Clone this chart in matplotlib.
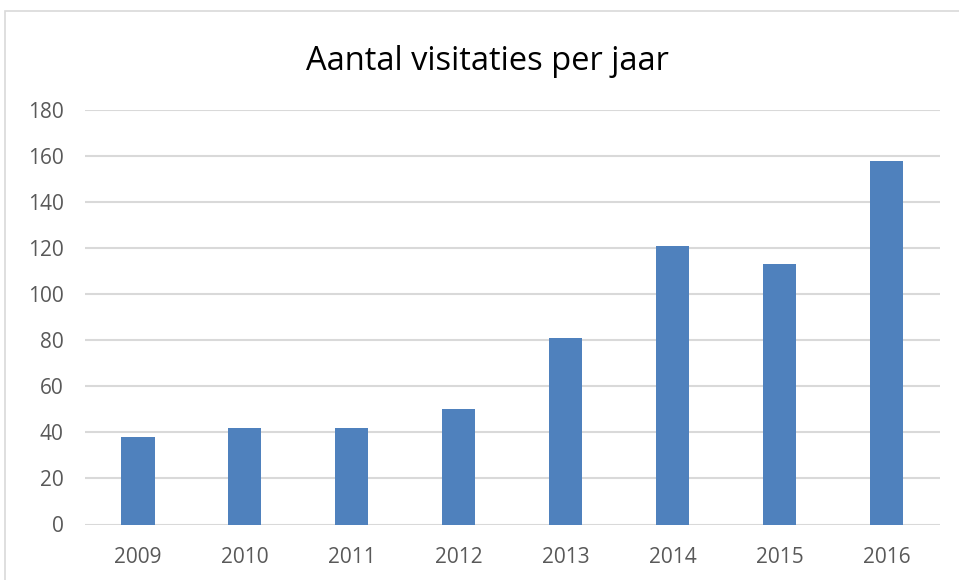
import matplotlib.pyplot as plt
import matplotlib.patches as patches
import numpy as np

years = ["2009", "2010", "2011", "2012", "2013", "2014", "2015", "2016"]
visits = [38, 42, 42, 50, 81, 121, 113, 158]
y_ticks = [0, 20, 40, 60, 80, 100, 120, 140, 160, 180]

plt.rcParams['font.family'] = ['Open Sans', 'DejaVu Sans']

fig = plt.figure(figsize=(9.59, 5.8), dpi=100)
ax = fig.add_axes([84.5 / 959, 1 - 524.5 / 580, (940 - 84.5) / 959, (524.5 - 110) / 580])

# chart area border
fig.patches.append(patches.Rectangle((5 / 959, -0.1), 1.1, 1 - 11 / 580 + 0.1,
                                     transform=fig.transFigure, fill=False,
                                     edgecolor="#D9D9D9", linewidth=1.2))

x = np.arange(len(years))
ax.bar(x, visits, width=0.31, color="#4F81BD", zorder=3)

ax.set_xlim(-0.5, len(years) - 0.5)
ax.set_ylim(0, 180)
ax.set_yticks(y_ticks)
ax.set_xticks(x)
ax.set_xticklabels(years)
ax.grid(axis="y", color="#D9D9D9", linewidth=1.5, zorder=0)
ax.tick_params(axis="both", length=0, labelsize=15, colors="#595959")
ax.tick_params(axis="y", pad=15)
ax.tick_params(axis="x", pad=16.5)
for s in ax.spines.values():
    s.set_visible(False)

fig.text(487.5 / 959, 1 - 70 / 580, "Aantal visitaties per jaar", ha="center", va="baseline",
         fontsize=23.5, color="black")

fig.savefig("out.png", dpi=100)
